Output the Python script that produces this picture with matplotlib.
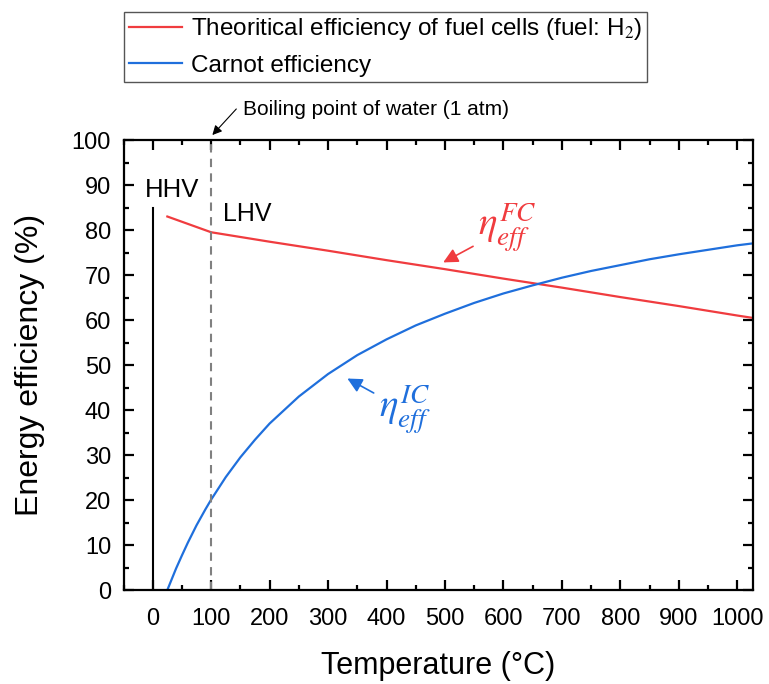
import matplotlib.pyplot as plt
from matplotlib.ticker import MultipleLocator

plt.rcParams['font.family'] = ['Liberation Sans', 'DejaVu Sans']
plt.rcParams['mathtext.fontset'] = 'stix'

# Теоретический КПД топливного элемента (H2)
fc_temp = [25, 100, 200, 300, 400, 500, 600, 700, 800, 900, 1000, 1025]
fc_eff = [83.0, 79.5, 77.4, 75.4, 73.3, 71.3, 69.2, 67.2, 65.1, 63.1, 61.0, 60.5]

# КПД цикла Карно
carnot_temp = [25, 30, 35, 40, 50, 60, 75, 90, 100, 125, 150, 175, 200, 250, 300,
               350, 400, 450, 500, 550, 600, 650, 700, 750, 800, 850, 900, 950,
               1000, 1025]
carnot_eff = [0.0, 1.6, 3.2, 4.8, 7.7, 10.5, 14.4, 17.9, 20.1, 25.1, 29.5, 33.4,
              37.0, 43.0, 48.0, 52.2, 55.7, 58.8, 61.4, 63.8, 65.9, 67.7, 69.4,
              70.9, 72.2, 73.5, 74.6, 75.6, 76.6, 77.0]

red = '#F03C3F'
blue = '#1F6FDC'

fig = plt.figure(figsize=(7.69, 6.84), dpi=100)
ax = fig.add_axes([0.1606, 0.1374, 0.8186, 0.6579])

ax.plot(fc_temp, fc_eff, color=red, lw=1.6,
        label='Theoritical efficiency of fuel cells (fuel: H$_2$)')
ax.plot(carnot_temp, carnot_eff, color=blue, lw=1.6, label='Carnot efficiency')

# HHV / LHV
ax.plot([0, 0], [0, 85], color='black', lw=1.5)
ax.axvline(100, color='gray', ls=(0, (4, 3)), lw=1.5)
ax.text(-13, 89, 'HHV', fontsize=18.5, va='center', ha='left',
        bbox=dict(facecolor='white', edgecolor='none', pad=1))
ax.text(120, 83.5, 'LHV', fontsize=18, va='center', ha='left')

ax.annotate('', xy=(102, 101.1), xytext=(143, 106.9), annotation_clip=False,
            arrowprops=dict(arrowstyle='-|>', color='black', lw=0.8,
                            mutation_scale=14, shrinkA=0, shrinkB=0))
ax.text(155, 105.6, 'Boiling point of water (1 atm)', fontsize=15,
        va='baseline', ha='left', clip_on=False)

ax.annotate(r'$\eta_{eff}^{FC}$', xy=(497, 72.8), xytext=(557, 80.5),
            fontsize=28, color=red, va='center', ha='left',
            arrowprops=dict(arrowstyle='-|>', color=red, lw=1.2,
                            mutation_scale=22, shrinkA=2, shrinkB=0))
ax.annotate(r'$\eta_{eff}^{IC}$', xy=(333, 47.0), xytext=(387, 40.0),
            fontsize=28, color=blue, va='center', ha='left',
            arrowprops=dict(arrowstyle='-|>', color=blue, lw=1.2,
                            mutation_scale=22, shrinkA=2, shrinkB=0))

ax.set_xlim(-50, 1027)
ax.set_ylim(0, 100)
ax.xaxis.set_major_locator(MultipleLocator(100))
ax.xaxis.set_minor_locator(MultipleLocator(50))
ax.yaxis.set_major_locator(MultipleLocator(10))
ax.yaxis.set_minor_locator(MultipleLocator(5))
ax.tick_params(which='both', direction='in', top=True, right=True, width=1.6)
ax.tick_params(which='major', length=7.5, labelsize=17)
ax.tick_params(which='minor', length=3.8)
ax.tick_params(axis='x', which='major', pad=13)
ax.tick_params(axis='y', which='major', pad=9)
for s in ax.spines.values():
    s.set_linewidth(1.6)

ax.set_xlabel('Temperature (°C)', fontsize=22, labelpad=15)
ax.set_ylabel('Energy efficiency (%)', fontsize=23, labelpad=19)

fig.legend(loc='upper left', bbox_to_anchor=(0.161, 0.983), borderaxespad=0,
           fontsize=17.5, fancybox=False, edgecolor='#555555', framealpha=1,
           handlelength=2.2, borderpad=0.2, labelspacing=0.5, handletextpad=0.35)

plt.savefig('out.png', dpi=100)
